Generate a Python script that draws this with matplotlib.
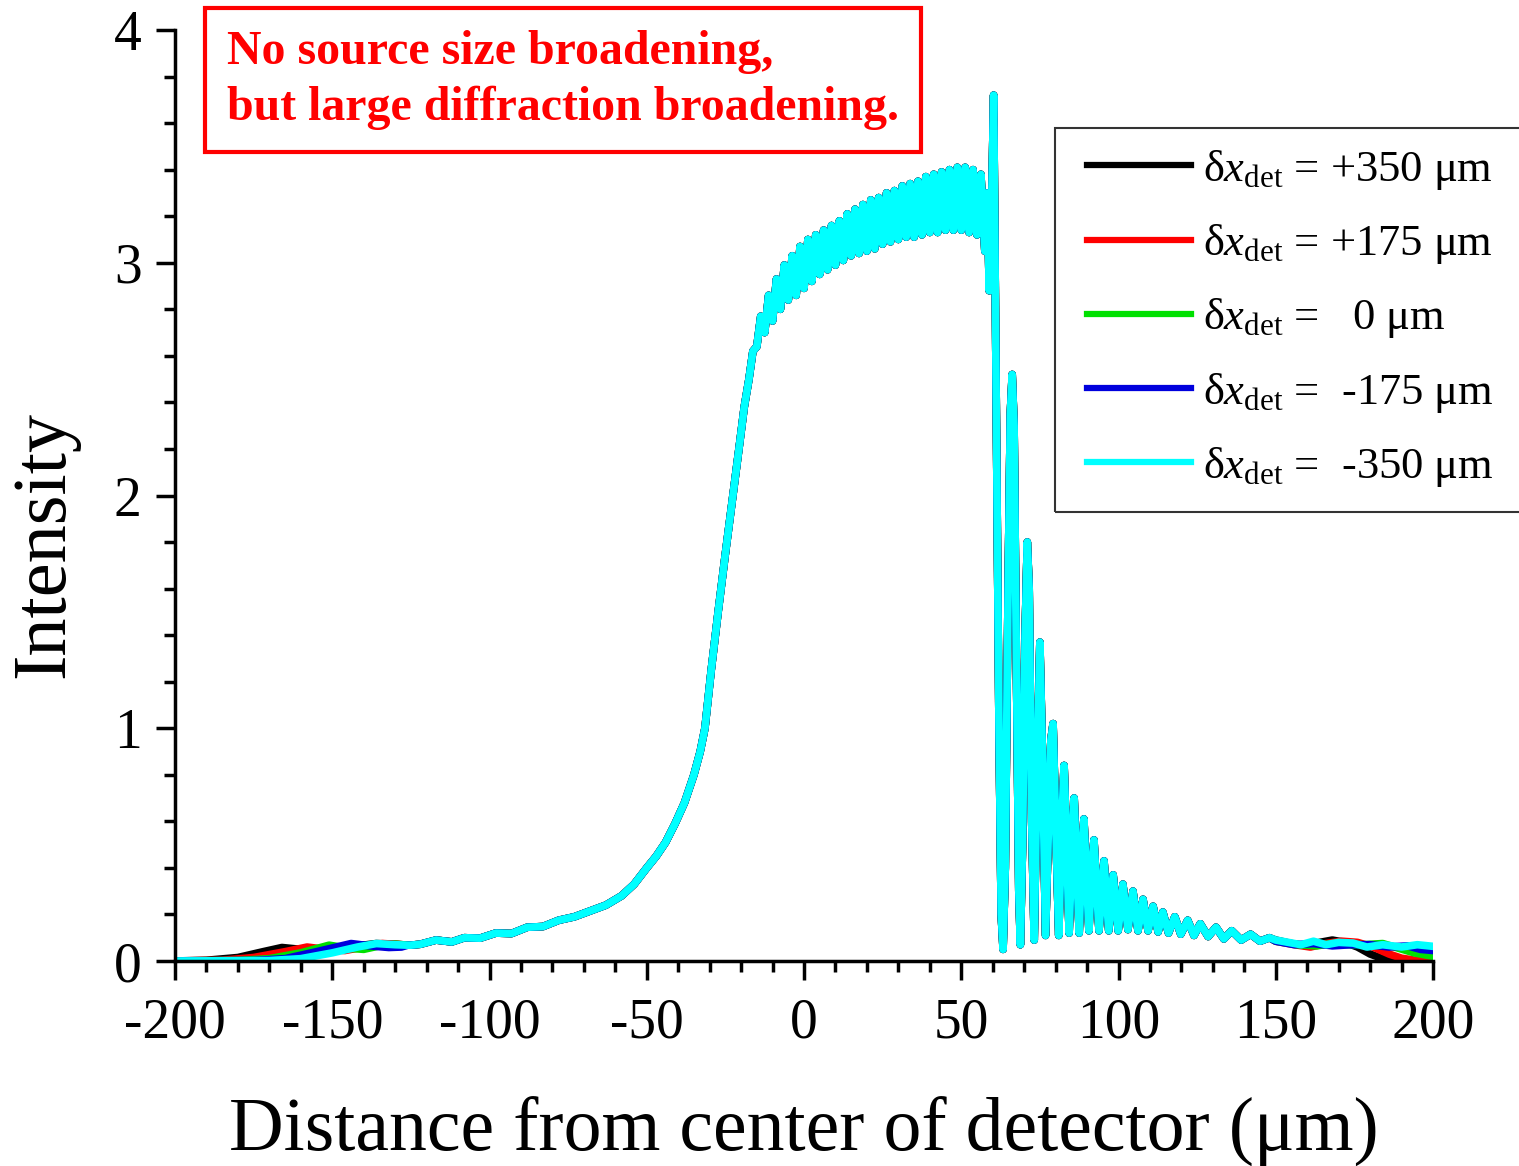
import matplotlib
matplotlib.use("Agg")
import matplotlib.pyplot as plt
from matplotlib.patches import Rectangle
from matplotlib.lines import Line2D
from matplotlib.ticker import MultipleLocator

plt.rcParams['font.family'] = ['Liberation Serif', 'DejaVu Serif']
plt.rcParams['mathtext.fontset'] = 'custom'
plt.rcParams['mathtext.rm'] = 'Liberation Serif'
plt.rcParams['mathtext.it'] = 'Liberation Serif:italic'
plt.rcParams['axes.unicode_minus'] = False

# Shared profile (all five curves sit on top of each other here)
body_x = [-125, -122, -117, -112, -108, -103, -98, -93, -88, -83, -78, -73, -68, -63,
          -58, -54, -50, -47, -44, -41, -38, -35, -33, -31.5, -29.5, -27.3, -25, -22.6,
          -20.5, -19,
          # oscillating plateau
          -17.5, -16.25, -15, -13.75, -12.5, -11.25, -10, -8.75, -7.5, -6.25, -5, -3.75,
          -2.5, -1.25, 0, 1.25, 2.5, 3.75, 5, 6.25, 7.5, 8.75, 10, 11.25, 12.5, 13.75,
          15, 16.25, 17.5, 18.75, 20, 21.25, 22.5, 23.75, 25, 26.25, 27.5, 28.75, 30,
          31.25, 32.5, 33.75, 35, 36.25, 37.5, 38.75, 40, 41.25, 42.5, 43.75, 45, 46.25,
          47.5, 48.75, 50, 51.25, 52.5, 53.75, 55, 56.25, 57.5,
          # edge spike and fringes
          58.3, 58.9, 59.6, 60.3, 61.0, 62.0, 62.7, 63.3, 64.0, 64.9, 65.6, 66.2, 66.8,
          67.6, 68.3, 68.8, 69.5, 70.3, 71.0, 71.6, 72.4, 73.2, 74.1, 75.0, 75.8, 76.8,
          77.8, 78.5, 79.2, 80.0, 81.0, 82.0, 82.7, 83.4, 84.3, 85.2, 85.9, 86.6, 87.5,
          88.3, 89.0, 89.7, 90.6, 91.5, 92.2, 92.9, 93.8, 95.4, 96.9, 98.3, 99.9, 101.4,
          103.0, 104.6, 106.2, 107.8, 109.4, 111.0, 112.6, 114.1, 115.9, 117.9, 119.8,
          122.0, 124.0, 126.0, 128.5, 131.0, 133.5, 136.0, 139.0, 142.0, 145.0, 148.0]
body_y = [0.068, 0.072, 0.09, 0.082, 0.1, 0.098, 0.12, 0.118, 0.145, 0.148, 0.175, 0.19,
          0.215, 0.24, 0.28, 0.33, 0.40, 0.45, 0.51, 0.59, 0.68, 0.80, 0.90, 1.0, 1.25,
          1.5, 1.75, 2.0, 2.22, 2.38,
          2.50, 2.62, 2.64, 2.77, 2.70, 2.86, 2.75, 2.93, 2.80, 2.99, 2.84, 3.03, 2.86,
          3.07, 2.89, 3.10, 2.92, 3.12, 2.95, 3.14, 2.97, 3.16, 2.99, 3.18, 3.01, 3.21,
          3.03, 3.23, 3.04, 3.25, 3.05, 3.27, 3.06, 3.28, 3.08, 3.30, 3.09, 3.31, 3.10,
          3.33, 3.11, 3.34, 3.11, 3.35, 3.12, 3.37, 3.13, 3.38, 3.13, 3.39, 3.14, 3.40,
          3.14, 3.41, 3.14, 3.41, 3.13, 3.40, 3.12, 3.38, 3.05,
          3.30, 2.88, 3.2, 3.72, 2.6, 1.0, 0.2, 0.05, 0.4, 1.6, 2.35, 2.52, 2.3,
          1.2, 0.3, 0.07, 0.5, 1.4, 1.80, 1.6, 0.6, 0.09, 0.8, 1.37, 0.9, 0.11,
          0.6, 0.95, 1.02, 0.6, 0.11, 0.6, 0.84, 0.55, 0.12, 0.5, 0.70, 0.45, 0.12,
          0.45, 0.61, 0.4, 0.13, 0.4, 0.52, 0.35, 0.13, 0.43, 0.13, 0.37, 0.13, 0.33,
          0.135, 0.30, 0.13, 0.265, 0.13, 0.235, 0.125, 0.21, 0.12, 0.19, 0.115,
          0.175, 0.11, 0.16, 0.105, 0.145, 0.095, 0.13, 0.09, 0.115, 0.085, 0.1]

# Left tails, where the curves separate
left_x = {
    '+350': [-200, -190, -180, -172, -166, -160, -154, -148, -142, -136, -130, -126],
    '+175': [-200, -185, -175, -165, -158, -152, -146, -140, -134, -130, -126],
    '0':    [-200, -180, -170, -160, -151, -145, -140, -135, -130, -126],
    '-175': [-200, -175, -165, -155, -144, -138, -132, -128, -126],
    '-350': [-200, -170, -160, -150, -142, -136, -130, -126],
}
left_y = {
    '+350': [0, 0.003, 0.015, 0.04, 0.058, 0.05, 0.04, 0.05, 0.065, 0.075, 0.072, 0.068],
    '+175': [0, 0.003, 0.015, 0.04, 0.06, 0.05, 0.045, 0.06, 0.075, 0.072, 0.068],
    '0':    [0, 0.002, 0.01, 0.035, 0.068, 0.055, 0.05, 0.065, 0.072, 0.068],
    '-175': [0, 0.002, 0.01, 0.04, 0.075, 0.065, 0.058, 0.06, 0.068],
    '-350': [0, 0.002, 0.01, 0.035, 0.06, 0.075, 0.07, 0.068],
}
# Right tails
right_x = {
    '+350': [150, 155, 160, 164, 168, 172, 176, 180, 184, 188, 200],
    '+175': [150, 156, 161, 166, 171, 176, 181, 186, 190, 195, 200],
    '0':    [150, 157, 163, 168, 173, 178, 184, 189, 194, 200],
    '-175': [150, 156, 162, 168, 174, 180, 186, 192, 196, 200],
    '-350': [150, 154, 158, 162, 166, 170, 174.6, 179, 184, 190, 195, 200],
}
right_y = {
    '+350': [0.09, 0.075, 0.065, 0.08, 0.09, 0.08, 0.06, 0.03, 0.01, 0.0, 0.0],
    '+175': [0.085, 0.07, 0.06, 0.075, 0.085, 0.08, 0.06, 0.03, 0.012, 0.002, 0.0],
    '0':    [0.085, 0.07, 0.065, 0.075, 0.07, 0.07, 0.075, 0.055, 0.035, 0.02],
    '-175': [0.085, 0.07, 0.075, 0.065, 0.07, 0.07, 0.06, 0.065, 0.05, 0.045],
    '-350': [0.09, 0.08, 0.07, 0.085, 0.07, 0.08, 0.077, 0.06, 0.07, 0.06, 0.07, 0.063],
}

series = ['+350', '+175', '0', '-175', '-350']
labels = [r'δ$x_{\mathrm{det}}$ = +350 μm',
          r'δ$x_{\mathrm{det}}$ = +175 μm',
          r'δ$x_{\mathrm{det}}$ =   0 μm',
          r'δ$x_{\mathrm{det}}$ =  -175 μm',
          r'δ$x_{\mathrm{det}}$ =  -350 μm']
colors = ['black', '#ff0000', '#00e000', '#0000dd', '#00ffff']

W, H = 1519, 1166
fig = plt.figure(figsize=(W / 100, H / 100), dpi=100)
ax = fig.add_axes([175 / W, 1 - 961 / H, (1433 - 175) / W, (961 - 30) / H])

handles = []
for key, col in zip(series, colors):
    xs = left_x[key] + body_x + right_x[key]
    ys = left_y[key] + body_y + right_y[key]
    ax.plot(xs, ys, color=col, lw=5.5, solid_joinstyle='round', solid_capstyle='round')
    handles.append(Line2D([], [], color=col, lw=4.5))

ax.set_xlim(-200, 200)
ax.set_ylim(0, 4)
ax.xaxis.set_major_locator(MultipleLocator(50))
ax.xaxis.set_minor_locator(MultipleLocator(10))
ax.yaxis.set_major_locator(MultipleLocator(1))
ax.yaxis.set_minor_locator(MultipleLocator(0.2))
for s in ['top', 'right']:
    ax.spines[s].set_visible(False)
for s in ['left', 'bottom']:
    ax.spines[s].set_linewidth(2.5)
ax.tick_params(which='major', length=14, width=2.5, labelsize=40, pad=10)
ax.tick_params(which='minor', length=8, width=2.5)
ax.tick_params(axis='x', which='major', pad=12)

ax.set_xlabel('Distance from center of detector (μm)', fontsize=54.5, labelpad=34)
fig.text(45 / W, 1 - 545 / H, 'Intensity', fontsize=55, rotation=90,
         ha='center', va='center')

# red note box
fig.text(227 / W, 1 - 30 / H, 'No source size broadening,\nbut large diffraction broadening.',
         color='red', fontsize=34.5, fontweight='bold', ha='left', va='top',
         linespacing=1.35,
         bbox=dict(boxstyle='square,pad=0.45', fc='white', ec='red', lw=3))

# legend with its frame running off the right edge
fig.patches.append(Rectangle((1055 / W, 1 - 512 / H), (1540 - 1055) / W, (512 - 128) / H,
                             transform=fig.transFigure, fill=False, ec='#333333', lw=1.5))
fig.legend(handles, labels, loc='upper left', bbox_to_anchor=(1087 / W, 1 - 148 / H),
           frameon=False, fontsize=32, borderpad=0, borderaxespad=0,
           handlelength=2.35, handletextpad=0.25, labelspacing=0.68)

fig.savefig('out.png', dpi=100)
